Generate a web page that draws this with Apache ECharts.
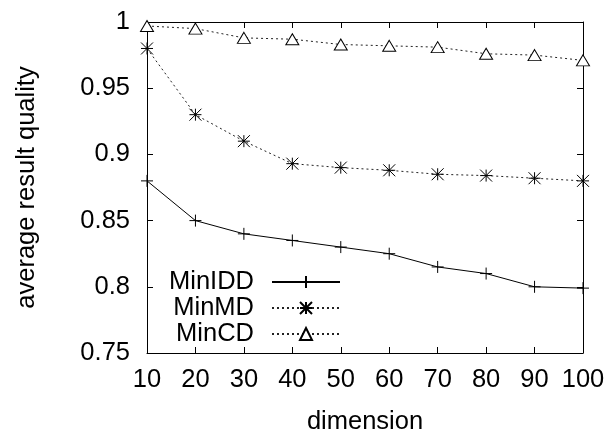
<!DOCTYPE html>
<html>
<head>
<meta charset="utf-8">
<script src="https://cdn.jsdelivr.net/npm/echarts@6/dist/echarts.min.js"></script>
<style>
  html, body { margin: 0; padding: 0; background: #fff; }
  #chart { width: 612px; height: 432px; }
</style>
</head>
<body>
<div id="chart"></div>
<script>
// Average result quality against dimension for three methods
const dimensions = [10, 20, 30, 40, 50, 60, 70, 80, 90, 100];
const minIDD = [0.880, 0.850, 0.840, 0.835, 0.830, 0.825, 0.815, 0.810, 0.800, 0.799];
const minMD  = [0.980, 0.930, 0.910, 0.893, 0.890, 0.888, 0.885, 0.884, 0.882, 0.880];
const minCD  = [0.997, 0.995, 0.988, 0.987, 0.983, 0.982, 0.981, 0.976, 0.975, 0.971];
const seriesNames = ['MinIDD', 'MinMD', 'MinCD'];
const yTicks = [0.75, 0.8, 0.85, 0.9, 0.95, 1];

const FONT = 'Liberation Sans, Arial, Helvetica, sans-serif';
const FS = 25.5;

const pairs = vals => dimensions.map((d, i) => [d, vals[i]]);

const plusSym = 'path://M5 0V10M0 5H10';
const starSym = 'path://M5 0V10M0 5H10M0 0L10 10M10 0L0 10';

const frameLine = { show: true, lineStyle: { color: '#000', width: 1 } };
const tickIn = { show: true, inside: true, length: 6, lineStyle: { color: '#000', width: 1 } };

function legendFor(name, top) {
  return {
    data: [name],
    right: 271,
    top: top,
    padding: 0,
    itemWidth: 68,
    itemHeight: 15,
    align: 'right',
    selectedMode: false,
    textStyle: { fontFamily: FONT, fontSize: FS, lineHeight: 26, color: '#000', padding: [0, 13, 0, 0] }
  };
}

const chart = echarts.init(document.getElementById('chart'), null, { renderer: 'canvas' });
chart.setOption({
  backgroundColor: '#fff',
  animation: false,
  grid: { left: 147, right: 29, top: 22, bottom: 79, containLabel: false, outerBoundsMode: 'none' },
  legend: [
    legendFor(seriesNames[0], 269),
    legendFor(seriesNames[1], 295),
    legendFor(seriesNames[2], 321)
  ],
  xAxis: [
    {
      type: 'value', position: 'bottom', min: 10, max: 100, interval: 10,
      name: 'dimension', nameLocation: 'middle', nameGap: 56,
      nameTextStyle: { fontFamily: FONT, fontSize: FS, color: '#000' },
      axisLine: frameLine, axisTick: tickIn,
      axisLabel: { fontFamily: FONT, fontSize: FS, color: '#000', margin: 14 },
      splitLine: { show: false }
    },
    {
      type: 'value', position: 'top', min: 10, max: 100, interval: 10,
      axisLine: frameLine, axisTick: tickIn, axisLabel: { show: false }, splitLine: { show: false }
    }
  ],
  yAxis: [
    {
      type: 'value', position: 'left', min: yTicks[0], max: yTicks[yTicks.length - 1], interval: 0.05,
      name: 'average result quality', nameLocation: 'middle', nameGap: 107,
      nameTextStyle: { fontFamily: FONT, fontSize: FS, color: '#000' },
      axisLine: frameLine, axisTick: tickIn,
      axisLabel: {
        fontFamily: FONT, fontSize: FS, color: '#000', margin: 17,
        formatter: v => String(+Number(v).toFixed(2))
      },
      splitLine: { show: false }
    },
    {
      type: 'value', position: 'right', min: yTicks[0], max: yTicks[yTicks.length - 1], interval: 0.05,
      axisLine: frameLine, axisTick: tickIn, axisLabel: { show: false }, splitLine: { show: false }
    }
  ],
  series: [
    {
      name: seriesNames[0], type: 'line', data: pairs(minIDD),
      symbol: plusSym, symbolSize: 12, showAllSymbol: true,
      lineStyle: { color: '#000', width: 1, type: 'solid' },
      itemStyle: { color: '#000', borderColor: '#000', borderWidth: 1 }
    },
    {
      name: seriesNames[1], type: 'line', data: pairs(minMD),
      symbol: starSym, symbolSize: 12, showAllSymbol: true,
      lineStyle: { color: '#222', width: 1, type: [2, 3] },
      itemStyle: { color: '#000', borderColor: '#000', borderWidth: 1 }
    },
    {
      name: seriesNames[2], type: 'line', data: pairs(minCD),
      symbol: 'triangle', symbolSize: [13, 11], showAllSymbol: true,
      lineStyle: { color: '#222', width: 1, type: [2, 3] },
      itemStyle: { color: '#fff', borderColor: '#000', borderWidth: 1 }
    }
  ]
});
</script>
</body>
</html>
